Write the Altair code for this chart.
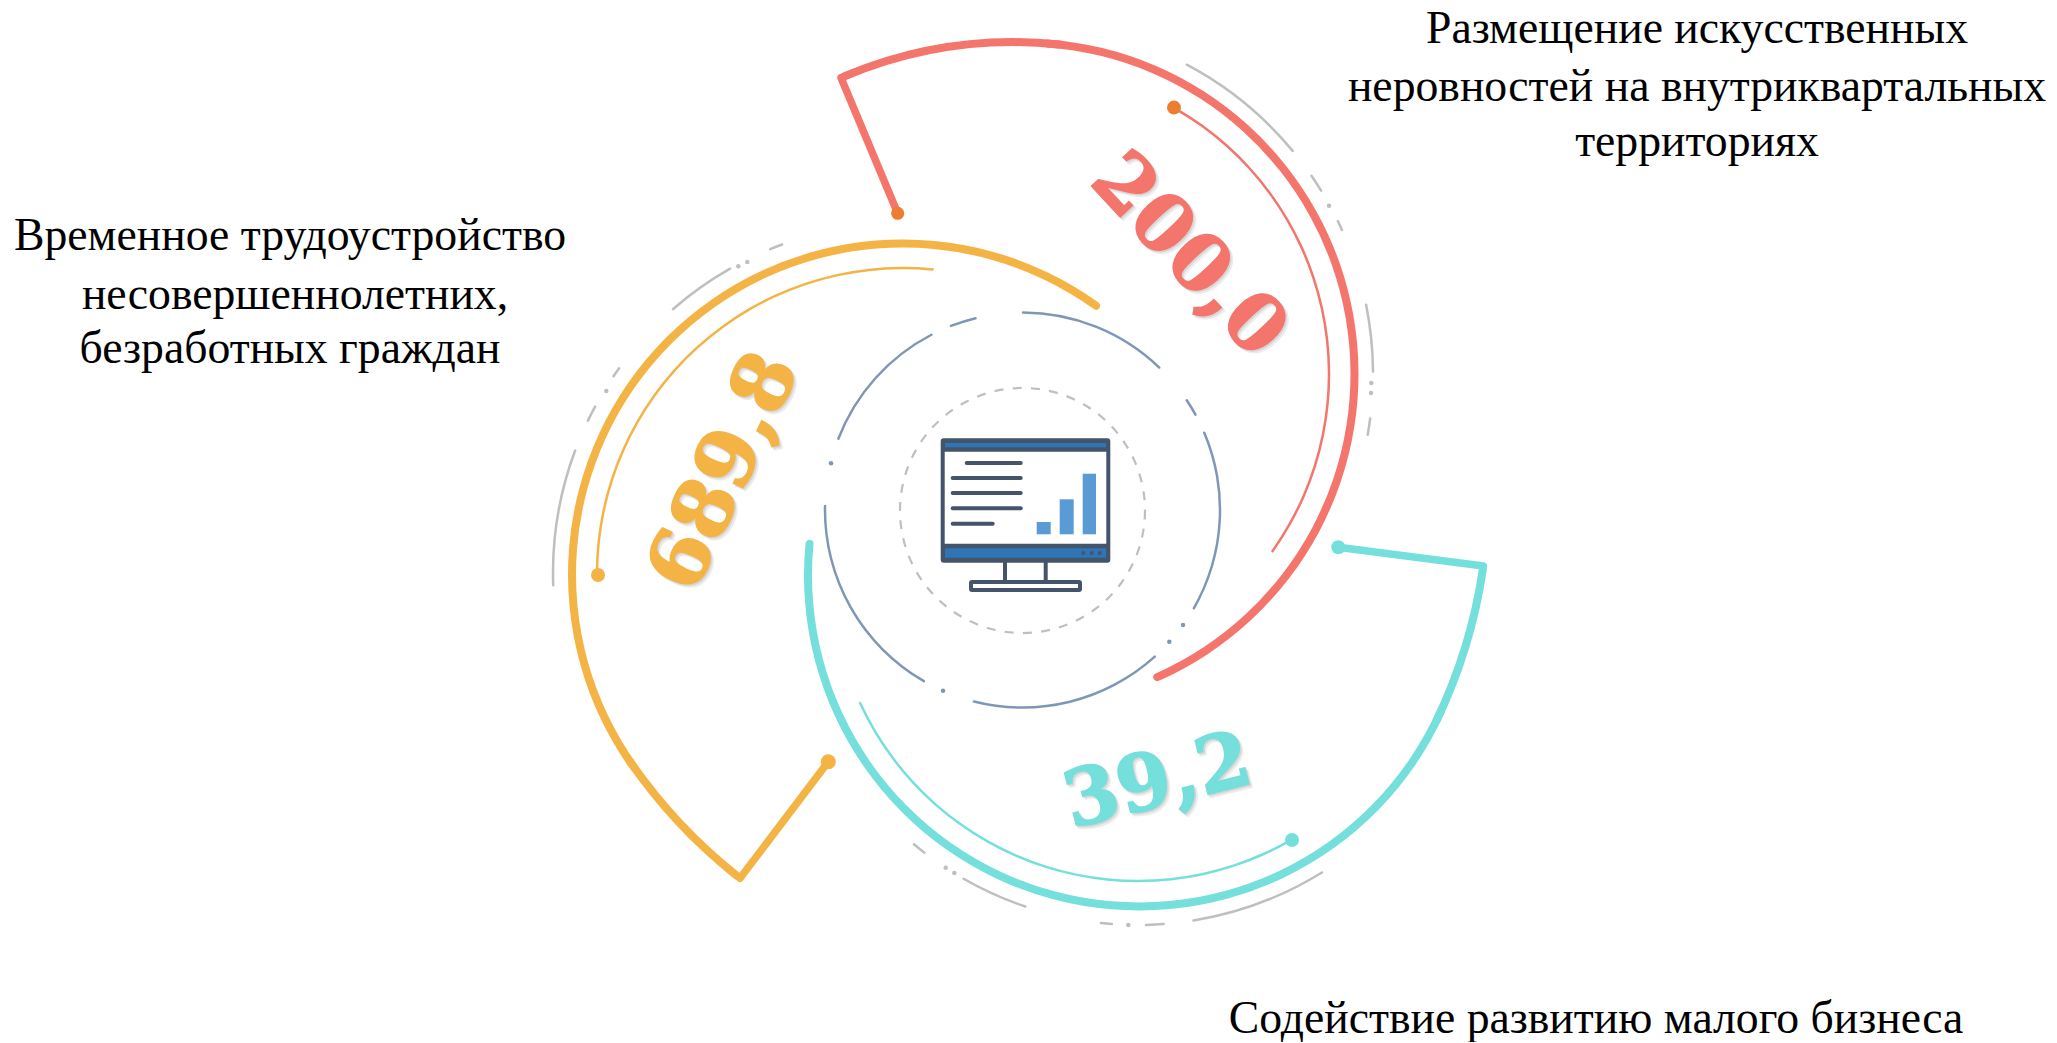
import altair as alt
import pandas as pd

W, H = 2040, 1034
X = alt.Scale(domain=[8, 8 + W], nice=False, zero=False)
Y = alt.Scale(domain=[8 + H, 8], nice=False, zero=False)
NOAX = dict(axis=None)
DEG = 3.141592653589793 / 180

RED, ORANGE, TEAL = "#F4756C", "#F4B345", "#74DFDB"
DOT_RED = "#ED7D31"
GRAY, RING, DARK, BLUE, BAR = "#BFBFBF", "#7F97B5", "#44546A", "#2E75B6", "#5B9BD5"

# arcs: colour, centre x, centre y, radius, line width, start deg, end deg
# (main thick arc, thin inner arc, wider tail arc for each spiral)
arc_color = [RED, RED, RED, ORANGE, ORANGE, ORANGE, TEAL, TEAL, TEAL]
arc_cx = [1023, 1023, 1013.8, 903, 903, 1067, 1139, 1138, 960.5]
arc_cy = [374, 374, 479.2, 574.5, 574, 459.8, 575.5, 575, 492.2]
arc_r = [331.5, 306, 437, 331, 306, 531, 331, 306, 528]
arc_w = [8, 2.5, 8, 8, 2.5, 8, 8, 2.5, 8]
arc_a = [363.5, 29.6, 336.7, 233.5, 269.6, 218, 113.5, 149.8, 98]
arc_b = [516.8, 125.6, 366.5, 396.4, 365.8, 236, 276.2, 245.5, 116]

# grey outer dashes, per spiral
g_red = [(27.7, 50.6), (55.3, 58.6), (63.9, 65.9), (78.4, 89.8), (97.1, 100.2)]
g_org = [(267.8, 290.7), (295.6, 298.6), (304, 306), (318.7, 330.6), (337.5, 340)]
g_teal = [(148, 171), (175.5, 178.8), (184, 186.2), (198.5, 210), (217.3, 219.9)]
# inner blue ring
ring_seg = [(-0.2, 44.2), (55.9, 61.5), (66.6, 120.2), (137.6, 194.6), (209.6, 271.5), (290.8, 332.9), (338.4, 346.6)]
ring_c = (1022.5, 510)
ring_r = 197.5

# stems (page pixels)
stems = [
    ([841, 897.7], [77.7, 213.3], RED),
    ([740, 828.3], [878.3, 761.7], ORANGE),
    ([1483.3, 1338.3], [566, 547.3], TEAL),
]
dot_x = [897.7, 828.3, 1338.3, 1174, 598, 1292]
dot_y = [213.3, 761.7, 547.3, 107.6, 575, 840]
dot_c = [DOT_RED, ORANGE, TEAL, DOT_RED, ORANGE, TEAL]
dot_d = [13, 15, 14, 14, 14, 14]

small_x = [1329, 1371.3, 1371, 606.3, 738.3, 747.3, 1128.3, 945.7, 954.3]
small_y = [205.7, 383, 393, 391, 266.3, 262, 925, 867.7, 873]
ring_dot_x = [1183, 1169.3, 943, 831]
ring_dot_y = [625, 641.7, 690.7, 463.3]

# dashed inner circle
dash_c = (1022.5, 510.5)
dash_r = 122.5

# labels
label_lines = [
    ("Размещение искусственных", 1697, 43), ("неровностей на внутриквартальных", 1697, 101), ("территориях", 1697, 156),
    ("Временное трудоустройство", 290, 250), ("несовершеннолетних,", 295, 309), ("безработных граждан", 290, 363),
    ("Содействие развитию малого бизнеса", 1596, 1033),
]
values = ["200,0", "689,8", "39,2"]
val_x = [1188, 725, 1158]
val_y = [256, 472, 783]
val_ang = [47, 295, 346]
val_col = [RED, ORANGE, TEAL]
val_size = [78, 80, 78]

# monitor (page pixels)
bars_x = [1036.7, 1059.7, 1082.7]
bars_x2 = [1050.7, 1073.7, 1096]
bars_y = [522, 499.3, 473.7]
bars_y2 = [534.3, 534.3, 534.3]
list_x = [966.7, 952.7, 952.7, 952.7, 952.7]
list_x2 = [1020.7, 1020.7, 1020.7, 1020.7, 992.7]
list_y = [463, 478, 493, 508.3, 523.7]


def arcs(rows):
    df = pd.DataFrame(rows, columns=["c", "cx", "cy", "r", "w", "a", "b"])
    df["r0"] = df.r - df.w / 2
    df["r1"] = df.r + df.w / 2
    df["t0"] = df.a * DEG
    df["t1"] = df.b * DEG
    out = []
    for w, g in df.groupby("w"):
        out.append(
            alt.Chart(g).mark_arc(cornerRadius=float(w) / 2).encode(
                x=alt.X("cx:Q", scale=X, **NOAX), y=alt.Y("cy:Q", scale=Y, **NOAX),
                radius=alt.Radius("r1:Q", scale=None), radius2=alt.Radius2("r0:Q"),
                theta=alt.Theta("t0:Q", scale=None), theta2=alt.Theta2("t1:Q"),
                fill=alt.Fill("c:N", scale=None),
            )
        )
    return out


def poly(xs, ys, col, w):
    df = pd.DataFrame({"x": xs, "y": ys, "o": range(len(xs))})
    return alt.Chart(df).mark_line(color=col, strokeWidth=w, strokeCap="round", strokeJoin="round").encode(
        x=alt.X("x:Q", scale=X, **NOAX), y=alt.Y("y:Q", scale=Y, **NOAX), order="o:O")


def rule(xs, x2s, ys, col, w):
    df = pd.DataFrame({"x": xs, "x2": x2s, "y": ys})
    return alt.Chart(df).mark_rule(color=col, strokeWidth=w, strokeCap="round").encode(
        x=alt.X("x:Q", scale=X, **NOAX), x2="x2:Q", y=alt.Y("y:Q", scale=Y, **NOAX))


def points(xs, ys, cols, d):
    df = pd.DataFrame({"x": xs, "y": ys, "c": cols, "s": [v * v for v in d]})
    return alt.Chart(df).mark_point(filled=True, opacity=1, shape="circle", strokeWidth=0).encode(
        x=alt.X("x:Q", scale=X, **NOAX), y=alt.Y("y:Q", scale=Y, **NOAX),
        fill=alt.Fill("c:N", scale=None), size=alt.Size("s:Q", scale=None))


layers = []
rows = [[c, x, y, r, w, a, b] for c, x, y, r, w, a, b in zip(arc_color, arc_cx, arc_cy, arc_r, arc_w, arc_a, arc_b)]
rows += [[GRAY, 1023, 374, 350, 2.5, a, b] for a, b in g_red]
rows += [[GRAY, 903, 573, 350, 2.5, a, b] for a, b in g_org]
rows += [[GRAY, 1137.5, 575, 350, 2.5, a, b] for a, b in g_teal]
rows += [[RING, ring_c[0], ring_c[1], ring_r, 2.5, a, b] for a, b in ring_seg]
layers += arcs(rows)
for xs, ys, c in stems:
    layers.append(poly(xs, ys, c, 7.5))
layers.append(points(dot_x, dot_y, dot_c, dot_d))
layers.append(points(small_x, small_y, [GRAY] * len(small_x), [4.5] * len(small_x)))
layers.append(points(ring_dot_x, ring_dot_y, [RING] * len(ring_dot_x), [4.5] * len(ring_dot_x)))

# dashed circle
layers.append(
    alt.Chart(pd.DataFrame({"x": [dash_c[0]], "y": [dash_c[1]], "s": [(2 * dash_r) ** 2]})).mark_point(
        shape="circle", filled=False, color=GRAY, strokeWidth=2.2, strokeDash=[9, 9.3], opacity=1
    ).encode(x=alt.X("x:Q", scale=X, **NOAX), y=alt.Y("y:Q", scale=Y, **NOAX), size=alt.Size("s:Q", scale=None))
)

# monitor
layers.append(
    alt.Chart(pd.DataFrame({"x": [942.7], "x2": [1108.3], "y": [440.3], "y2": [560.7]})).mark_rect(
        fill="white", stroke=DARK, strokeWidth=4, cornerRadius=1
    ).encode(x=alt.X("x:Q", scale=X, **NOAX), x2="x2:Q", y=alt.Y("y:Q", scale=Y, **NOAX), y2="y2:Q")
)
band = pd.DataFrame({"x": [942.7, 942.7], "x2": [1108.3, 1108.3], "y": [440.3, 543.7], "y2": [451.7, 560.7]})
layers.append(alt.Chart(band).mark_rect(fill=DARK).encode(
    x=alt.X("x:Q", scale=X, **NOAX), x2="x2:Q", y=alt.Y("y:Q", scale=Y, **NOAX), y2="y2:Q"))
inner = pd.DataFrame({"x": [945, 945], "x2": [1106, 1106], "y": [443, 548.3], "y2": [447.3, 557.7]})
layers.append(alt.Chart(inner).mark_rect(fill=BLUE).encode(
    x=alt.X("x:Q", scale=X, **NOAX), x2="x2:Q", y=alt.Y("y:Q", scale=Y, **NOAX), y2="y2:Q"))
layers.append(alt.Chart(pd.DataFrame({"x": bars_x, "x2": bars_x2, "y": bars_y, "y2": bars_y2})).mark_rect(fill=BAR).encode(
    x=alt.X("x:Q", scale=X, **NOAX), x2="x2:Q", y=alt.Y("y:Q", scale=Y, **NOAX), y2="y2:Q"))
layers.append(rule(list_x, list_x2, list_y, DARK, 4))
layers.append(points([1083.3, 1091.7, 1099.7], [553, 553, 553], [DARK] * 3, [4, 4, 4]))
stand = pd.DataFrame({"x": [1005, 1045.7], "y": [562, 562], "y2": [581, 581]})
layers.append(alt.Chart(stand).mark_rule(color=DARK, strokeWidth=4).encode(
    x=alt.X("x:Q", scale=X, **NOAX), y=alt.Y("y:Q", scale=Y, **NOAX), y2="y2:Q"))
layers.append(
    alt.Chart(pd.DataFrame({"x": [971], "x2": [1080], "y": [582], "y2": [590]})).mark_rect(
        fill="white", stroke=DARK, strokeWidth=4, cornerRadius=1
    ).encode(x=alt.X("x:Q", scale=X, **NOAX), x2="x2:Q", y=alt.Y("y:Q", scale=Y, **NOAX), y2="y2:Q")
)

# text labels
txt = pd.DataFrame(label_lines, columns=["t", "x", "y"])
layers.append(alt.Chart(txt).mark_text(font="Liberation Serif", fontSize=45.7, align="center", baseline="alphabetic", color="black").encode(
    x=alt.X("x:Q", scale=X, **NOAX), y=alt.Y("y:Q", scale=Y, **NOAX), text="t:N"))

# value labels with a soft shadow
for t, x, y, a, c, fs in zip(values, val_x, val_y, val_ang, val_col, val_size):
    base = pd.DataFrame({"t": [t], "x": [x], "y": [y], "sx": [x + 3], "sy": [y + 3], "tx": [x + 1.5], "ty": [y + 1.5]})
    kw = dict(font="DejaVu Serif", fontWeight="bold", fontSize=fs, align="center", baseline="middle", angle=a)
    layers.append(alt.Chart(base).mark_text(color="#A6A6A6", opacity=0.2, stroke="#A6A6A6", strokeWidth=2, **kw).encode(
        x=alt.X("sx:Q", scale=X, **NOAX), y=alt.Y("sy:Q", scale=Y, **NOAX), text="t:N"))
    layers.append(alt.Chart(base).mark_text(color="#A6A6A6", opacity=0.3, stroke="#A6A6A6", strokeWidth=1.5, **kw).encode(
        x=alt.X("tx:Q", scale=X, **NOAX), y=alt.Y("ty:Q", scale=Y, **NOAX), text="t:N"))
    layers.append(alt.Chart(base).mark_text(color=c, stroke=c, strokeWidth=1.5, **kw).encode(
        x=alt.X("x:Q", scale=X, **NOAX), y=alt.Y("y:Q", scale=Y, **NOAX), text="t:N"))

chart = alt.layer(*layers).resolve_scale(color="independent", fill="independent", size="independent").properties(
    width=W, height=H, padding=0, background="white", autosize=alt.AutoSizeParams(type="none")
).configure_view(stroke=None)

chart.save("out.html", embed_options={"renderer": "svg", "actions": False})
